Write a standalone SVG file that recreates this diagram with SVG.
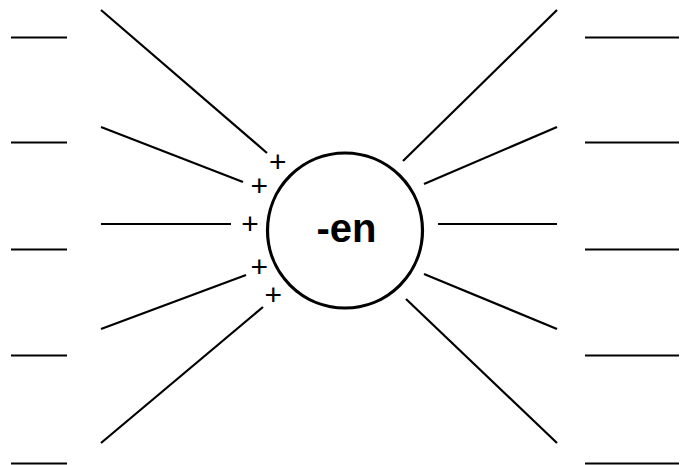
<svg xmlns="http://www.w3.org/2000/svg" width="681" height="465" viewBox="0 0 681 465">
<style>
.ln{stroke:#000;stroke-width:2.2;fill:none}
.plus{font-family:"Liberation Sans",Arial,sans-serif;font-size:30px;fill:#000;text-anchor:middle}
</style>
<rect width="681" height="465" fill="#fff"/>
<g id="blanks-left">
<line class="ln" x1="11" y1="37.5" x2="67" y2="37.5"/>
<line class="ln" x1="11" y1="142.5" x2="67" y2="142.5"/>
<line class="ln" x1="11" y1="249.5" x2="67" y2="249.5"/>
<line class="ln" x1="11" y1="355.5" x2="67" y2="355.5"/>
<line class="ln" x1="11" y1="463.5" x2="67" y2="463.5"/>
</g>
<g id="blanks-right">
<line class="ln" x1="585" y1="37.5" x2="679" y2="37.5"/>
<line class="ln" x1="585" y1="142.5" x2="679" y2="142.5"/>
<line class="ln" x1="585" y1="249.5" x2="679" y2="249.5"/>
<line class="ln" x1="585" y1="355.5" x2="679" y2="355.5"/>
<line class="ln" x1="585" y1="463.5" x2="679" y2="463.5"/>
</g>
<g id="connectors">
<line class="ln" x1="101" y1="10" x2="267" y2="153"/>
<line class="ln" x1="101" y1="127" x2="243" y2="182"/>
<line class="ln" x1="101" y1="224" x2="231" y2="224"/>
<line class="ln" x1="101" y1="329" x2="246" y2="275"/>
<line class="ln" x1="101" y1="443" x2="263" y2="307"/>
<line class="ln" x1="557" y1="10" x2="403" y2="161"/>
<line class="ln" x1="557" y1="127" x2="424" y2="184"/>
<line class="ln" x1="438" y1="224" x2="557" y2="224"/>
<line class="ln" x1="424" y1="274" x2="557" y2="329"/>
<line class="ln" x1="406" y1="299" x2="557" y2="443"/>
</g>
<g id="plus-signs">
<text class="plus" x="277.7" y="172">+</text>
<text class="plus" x="259.3" y="196.3">+</text>
<text class="plus" x="250" y="233.6">+</text>
<text class="plus" x="259.3" y="277">+</text>
<text class="plus" x="273.3" y="305.3">+</text>
</g>
<g id="center">
<circle cx="345" cy="230.5" r="77.5" fill="#fff" stroke="#000" stroke-width="3.2"/>
<text x="346.5" y="242" font-family="Liberation Sans,Arial,sans-serif" font-weight="bold" font-size="40" text-anchor="middle" fill="#000">-en</text>
</g>
</svg>
